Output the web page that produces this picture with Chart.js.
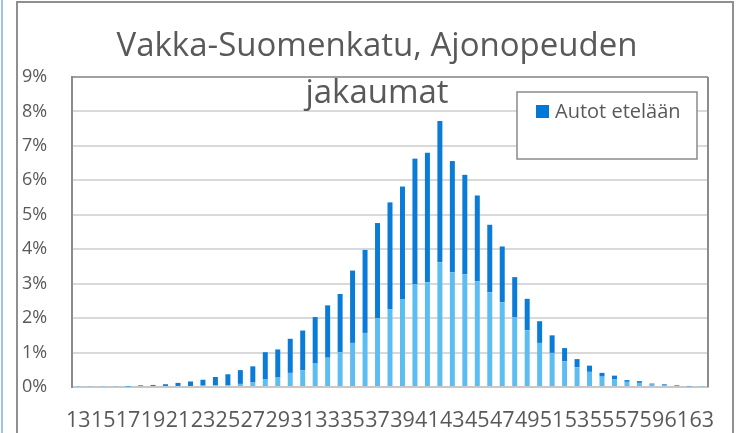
<!DOCTYPE html>
<html>
<head>
<meta charset="utf-8">
<script src="https://cdn.jsdelivr.net/npm/chart.js@4"></script>
<style>
  html, body { margin: 0; padding: 0; background: #fff; }
  body { width: 741px; height: 433px; position: relative; overflow: hidden; }
  .side { position: absolute; left: 1px; top: 0; width: 2px; height: 433px; background: #9dc3e6; }
  .frame { position: absolute; left: 16px; top: 1px; width: 718px; height: 440px; border: 2px solid #8f8f8f; box-sizing: border-box; }
  #chart { position: absolute; left: 0; top: 0; }
</style>
</head>
<body>
<div class="side"></div>
<div class="frame"></div>
<canvas id="chart" width="741" height="433"></canvas>
<script>
/* ── DATA ── */
const speeds = ['13','14','15','16','17','18','19','20','21','22','23','24','25','26','27','28','29','30',
  '31','32','33','34','35','36','37','38','39','40','41','42','43','44','45','46','47','48','49','50',
  '51','52','53','54','55','56','57','58','59','60','61','62','63'];

// lower (light) part of each bar, %
const lightPart = [0.02,0.02,0.02,0.02,0.01,0.03,0.03,0.03,0.03,0.03,0.04,0.05,0.05,0.09,0.13,0.23,0.29,0.41,
  0.49,0.68,0.85,1.01,1.28,1.57,2.00,2.26,2.54,2.99,3.04,3.62,3.33,3.27,3.07,2.75,2.46,2.03,1.65,1.28,
  0.99,0.75,0.57,0.44,0.30,0.23,0.15,0.12,0.07,0.06,0.03,0.02,0.02];

// "Autot etelään" (dark) part stacked on top, %
const southPart = [0.00,0.00,0.00,0.00,0.02,0.02,0.03,0.05,0.09,0.13,0.17,0.24,0.32,0.40,0.47,0.78,0.80,0.99,
  1.15,1.35,1.52,1.69,2.10,2.41,2.76,3.10,3.28,3.64,3.76,4.10,3.23,2.89,2.49,1.96,1.62,1.16,0.91,0.63,
  0.51,0.38,0.24,0.18,0.11,0.10,0.05,0.05,0.03,0.02,0.02,0.01,0.00];

const yTicks = [0,1,2,3,4,5,6,7,8,9];

const COLORS = {
  light: '#5cbdf2',
  dark: '#0a7bd6',
  text: '#595959',
  grid: '#d9d9d9',
  axis: '#8c8c8c',
};

/* ── TITLE + LEGEND OVERLAY ── */
const overlay = {
  id: 'overlay',
  afterDraw(chart) {
    const { ctx, chartArea } = chart;
    ctx.save();
    // right edge of plot
    ctx.strokeStyle = COLORS.axis;
    ctx.lineWidth = 2;
    ctx.beginPath();
    ctx.moveTo(chartArea.right, chartArea.top);
    ctx.lineTo(chartArea.right, chartArea.bottom);
    ctx.stroke();

    // title
    ctx.fillStyle = COLORS.text;
    ctx.font = '33px "Open Sans"';
    ctx.textAlign = 'center';
    ctx.textBaseline = 'middle';
    ctx.fillText('Vakka-Suomenkatu, Ajonopeuden', 377, 47);
    ctx.fillText('jakaumat', 377, 94);

    // legend box
    ctx.fillStyle = '#fff';
    ctx.fillRect(517, 92, 180, 67);
    ctx.strokeStyle = '#8a8a8a';
    ctx.lineWidth = 1.5;
    ctx.strokeRect(517, 92, 180, 67);
    ctx.fillStyle = '#0078d7';
    ctx.fillRect(536, 105, 13, 13);
    ctx.fillStyle = COLORS.text;
    ctx.font = '20px "Open Sans"';
    ctx.textAlign = 'left';
    ctx.fillText('Autot etelään', 555, 112);
    ctx.restore();
  }
};

new Chart(document.getElementById('chart'), {
  type: 'bar',
  data: {
    labels: speeds,
    datasets: [
      { label: 'Autot pohjoiseen', data: lightPart, backgroundColor: COLORS.light },
      { label: 'Autot etelään', data: southPart, backgroundColor: COLORS.dark },
    ],
  },
  options: {
    responsive: false,
    animation: false,
    layout: { padding: { left: 22, right: 33, top: 77, bottom: 0 } },
    datasets: { bar: { categoryPercentage: 1, barPercentage: 0.4 } },
    plugins: { legend: { display: false }, title: { display: false }, tooltip: { enabled: false } },
    scales: {
      x: {
        stacked: true,
        grid: { display: false },
        border: { color: '#c8c8c8', width: 2 },
        ticks: {
          autoSkip: false, maxRotation: 0, minRotation: 0, padding: 13,
          color: COLORS.text, font: { family: 'Open Sans', size: 21.5 },
          callback: (v, i) => (i % 2 === 0 ? speeds[i] : ''),
        },
        afterFit: s => { s.height = 46; },
      },
      y: {
        stacked: true,
        min: 0, max: 9,
        afterBuildTicks: s => { s.ticks = yTicks.map(v => ({ value: v })); },
        grid: { color: ctx => (ctx.tick && ctx.tick.value === 9 ? '#a0a0a0' : COLORS.grid), lineWidth: 2, drawTicks: false },
        border: { color: COLORS.axis, width: 2 },
        ticks: {
          crossAlign: 'far', padding: 4,
          color: COLORS.text, font: { family: 'Open Sans', size: 18 },
          callback: v => v + '%',
        },
        afterFit: s => { s.width = 50; },
      },
    },
  },
  plugins: [overlay],
});
</script>
</body>
</html>
